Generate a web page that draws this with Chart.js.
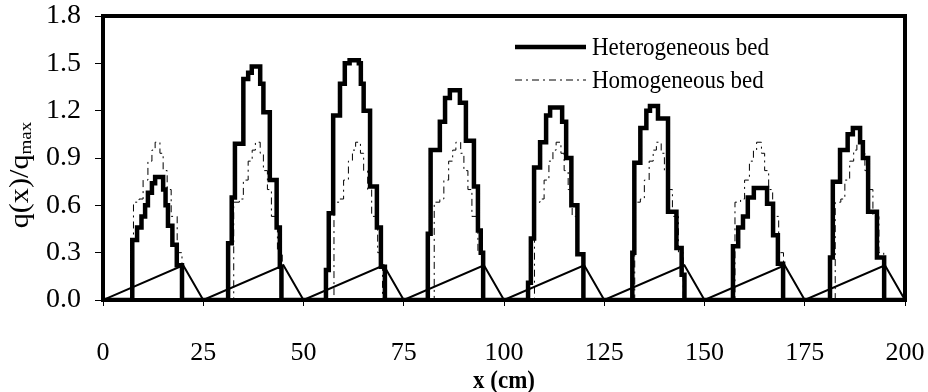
<!DOCTYPE html>
<html>
<head>
<meta charset="utf-8">
<script src="https://cdn.jsdelivr.net/npm/chart.js@4.4.0/dist/chart.umd.min.js"></script>
<style>
html,body{margin:0;padding:0;background:#fff;}
#wrap{width:928px;height:392px;position:relative;}
</style>
</head>
<body>
<div id="wrap"><canvas id="c" width="928" height="392"></canvas></div>
<script>
// ---- data (x in cm, q(x)/qmax) ----
const xTickValues = [0, 25, 50, 75, 100, 125, 150, 175, 200];
const yTickValues = [0.0, 0.3, 0.6, 0.9, 1.2, 1.5, 1.8];

const legendLabels = ["Heterogeneous bed", "Homogeneous bed"];

// Heterogeneous bed (stepped profile: value holds from x until next x)
const hetX = [0,
  7.3, 8.5, 9.6, 10.5, 11.2, 12.2, 13.0, 15.0, 15.6, 16.2, 17.3, 18.4, 19.7,
  31.2, 32.1, 32.9, 35.0, 36.2, 37.1, 39.2, 40.0, 41.6, 43.3, 44.1, 44.5,
  55.6, 56.3, 57.4, 59.1, 60.3, 61.5, 63.8, 64.3, 65.0, 66.6, 68.3, 69.3, 70.3,
  81.0, 81.7, 84.0, 85.3, 86.5, 89.0, 90.5, 92.5, 93.5, 94.2, 94.8,
  106.0, 106.7, 107.5, 109.0, 110.5, 111.5, 114.5, 115.5, 116.8, 118.3, 119.8,
  132.0, 132.5, 134.0, 135.5, 136.4, 138.4, 140.9, 143.0, 144.3, 145.0,
  157.1, 158.4, 159.6, 160.8, 162.3, 165.6, 167.1, 168.3, 169.6,
  181.3, 182.0, 183.8, 185.7, 187.0, 188.8, 189.5, 190.8, 193.0, 194.8,
  200];
const hetY = [0,
  0.38, 0.46, 0.53, 0.60, 0.68, 0.74, 0.78, 0.70, 0.60, 0.47, 0.35, 0.22, 0,
  0.36, 0.65, 0.99, 1.40, 1.44, 1.48, 1.37, 1.19, 0.76, 0.46, 0.21, 0,
  0.19, 0.55, 1.17, 1.37, 1.50, 1.52, 1.50, 1.37, 1.20, 0.72, 0.46, 0.21, 0,
  0.42, 0.95, 1.13, 1.28, 1.33, 1.25, 1.01, 0.72, 0.44, 0.30, 0,
  0.11, 0.39, 0.84, 1.00, 1.17, 1.22, 1.13, 0.90, 0.60, 0.29, 0,
  0.30, 0.87, 1.09, 1.20, 1.23, 1.15, 0.56, 0.33, 0.16, 0,
  0.34, 0.46, 0.53, 0.65, 0.71, 0.61, 0.41, 0.23, 0,
  0.27, 0.75, 0.95, 1.05, 1.09, 1.00, 0.90, 0.56, 0.27, 0,
  0];

// Homogeneous bed (stepped profile)
const homX = [0,
  7.6, 9, 10, 11.2, 12.2, 13, 14.2, 15, 16, 17, 18.5, 19.7,
  32.6, 34, 35, 36.2, 37.2, 38, 39.2, 40, 41, 42, 43.5, 44.7,
  57.6, 59, 60, 61.2, 62.2, 63, 64.2, 65, 66, 67, 68.5, 69.7,
  82.6, 84, 85, 86.2, 87.2, 88, 89.2, 90, 91, 92, 93.5, 94.7,
  107.6, 109, 110, 111.2, 112.2, 113, 114.2, 115, 116, 117, 118.5, 119.7,
  132.6, 134, 135, 136.2, 137.2, 138, 139.2, 140, 141, 142, 143.5, 144.7,
  157.6, 159, 160, 161.2, 162.2, 163, 164.2, 165, 166, 167, 168.5, 169.7,
  182.6, 184, 185, 186.2, 187.2, 188, 189.2, 190, 191, 192, 193.5, 194.7,
  200];
const homY = [0,
  0.62, 0.64, 0.76, 0.88, 0.95, 1.00, 0.93, 0.82, 0.70, 0.53, 0.30, 0,
  0.62, 0.64, 0.76, 0.88, 0.95, 1.00, 0.93, 0.82, 0.70, 0.53, 0.30, 0,
  0.62, 0.64, 0.76, 0.88, 0.95, 1.00, 0.93, 0.82, 0.70, 0.53, 0.30, 0,
  0.62, 0.64, 0.76, 0.88, 0.95, 1.00, 0.93, 0.82, 0.70, 0.53, 0.30, 0,
  0.62, 0.64, 0.76, 0.88, 0.95, 1.00, 0.93, 0.82, 0.70, 0.53, 0.30, 0,
  0.62, 0.64, 0.76, 0.88, 0.95, 1.00, 0.93, 0.82, 0.70, 0.53, 0.30, 0,
  0.62, 0.64, 0.76, 0.88, 0.95, 1.00, 0.93, 0.82, 0.70, 0.53, 0.30, 0,
  0.62, 0.64, 0.76, 0.88, 0.95, 1.00, 0.93, 0.82, 0.70, 0.53, 0.30, 0,
  0];

// Sawtooth reference line
const sawX = [0, 20, 25, 45, 50, 70, 75, 95, 100, 120, 125, 145, 150, 170, 175, 195, 200];
const sawY = [0, 0.22, 0, 0.22, 0, 0.22, 0, 0.22, 0, 0.22, 0, 0.22, 0, 0.22, 0, 0.22, 0];

const pts = (xs, ys) => xs.map((x, i) => ({x: x, y: ys[i]}));

const SERIF = '"Liberation Serif", "Times New Roman", serif';
const VSTRETCH = 1.12;

const decorPlugin = {
  id: 'decor',
  afterDatasetsDraw(chart) {
    const ctx = chart.ctx;
    const a = chart.chartArea;
    ctx.save();
    // frame
    ctx.strokeStyle = '#000';
    ctx.lineWidth = 4;
    ctx.strokeRect(a.left, a.top, a.right - a.left, a.bottom - a.top);

    // legend
    const ds = chart.data.datasets;
    const lx0 = 515, lx1 = 586;
    const rows = [47, 80];
    for (let i = 0; i < 2; i++) {
      const d = ds[i];
      ctx.beginPath();
      ctx.lineWidth = d.borderWidth;
      ctx.strokeStyle = d.borderColor;
      ctx.setLineDash(d.borderDash || []);
      ctx.moveTo(lx0, rows[i]);
      ctx.lineTo(lx1, rows[i]);
      ctx.stroke();
      ctx.setLineDash([]);
      ctx.save();
      ctx.translate(592, rows[i] + 1);
      ctx.scale(1, VSTRETCH);
      ctx.fillStyle = '#000';
      ctx.font = '23px ' + SERIF;
      ctx.textAlign = 'left';
      ctx.textBaseline = 'middle';
      ctx.fillText(d.label, 0, 0);
      ctx.restore();
    }

    // x title
    ctx.save();
    ctx.translate((a.left + a.right) / 2, 381);
    ctx.scale(1, VSTRETCH);
    ctx.fillStyle = '#000';
    ctx.font = 'bold 23px ' + SERIF;
    ctx.textAlign = 'center';
    ctx.textBaseline = 'middle';
    ctx.fillText('x (cm)', 0, 0);
    ctx.restore();

    // y title with subscript
    ctx.save();
    ctx.translate(28, 175);
    ctx.rotate(-Math.PI / 2);
    ctx.scale(VSTRETCH, 1);
    ctx.fillStyle = '#000';
    ctx.font = '27px ' + SERIF;
    const main = 'q(x)/q';
    const wMain = ctx.measureText(main).width;
    ctx.font = '17px ' + SERIF;
    const wSub = ctx.measureText('max').width;
    const start = -(wMain + wSub) / 2;
    ctx.textAlign = 'left';
    ctx.textBaseline = 'alphabetic';
    ctx.font = '27px ' + SERIF;
    ctx.fillText(main, start, 0);
    ctx.font = '17px ' + SERIF;
    ctx.fillText('max', start + wMain, 3);
    ctx.restore();

    ctx.restore();
  }
};

new Chart(document.getElementById('c'), {
  type: 'line',
  data: {
    datasets: [
      {
        label: legendLabels[0],
        data: pts(hetX, hetY),
        borderColor: '#000',
        borderWidth: 4.5,
        stepped: 'before',
        pointRadius: 0,
        fill: false,
        order: 0,
        borderJoinStyle: 'miter'
      },
      {
        label: legendLabels[1],
        data: pts(homX, homY),
        borderColor: '#000',
        borderWidth: 1,
        borderDash: [7, 4, 2, 4],
        stepped: 'before',
        pointRadius: 0,
        fill: false,
        order: 1
      },
      {
        label: 'ref',
        data: pts(sawX, sawY),
        borderColor: '#000',
        borderWidth: 2,
        pointRadius: 0,
        fill: false,
        order: 2
      }
    ]
  },
  options: {
    responsive: false,
    animation: false,
    events: [],
    layout: { padding: { left: 0, right: 23, top: 16, bottom: 0 } },
    plugins: { legend: { display: false }, tooltip: { enabled: false } },
    scales: {
      x: {
        type: 'linear',
        min: 0, max: 200,
        afterBuildTicks(s) { s.ticks = xTickValues.map(v => ({value: v})); },
        afterFit(s) { s.height = 92; s.paddingLeft = 0; s.paddingRight = 0; },
        grid: { drawOnChartArea: false, drawTicks: true, tickLength: 6, color: '#000', lineWidth: 1 },
        border: { display: false },
        ticks: {
          color: '#000',
          font: { family: SERIF, size: 26 },
          padding: 32,
          maxRotation: 0,
          autoSkip: false,
          callback: (v) => String(v)
        }
      },
      y: {
        type: 'linear',
        min: 0, max: 1.8,
        afterBuildTicks(s) { s.ticks = yTickValues.map(v => ({value: v})); },
        afterFit(s) { s.width = 103; s.paddingTop = 0; s.paddingBottom = 0; },
        grid: { drawOnChartArea: false, drawTicks: true, tickLength: 8, color: '#000', lineWidth: 1 },
        border: { display: false },
        ticks: {
          color: '#000',
          font: { family: SERIF, size: 28 },
          padding: 14,
          autoSkip: false,
          callback: (v) => Number(v).toFixed(1)
        }
      }
    }
  },
  plugins: [decorPlugin]
});
</script>
</body>
</html>
